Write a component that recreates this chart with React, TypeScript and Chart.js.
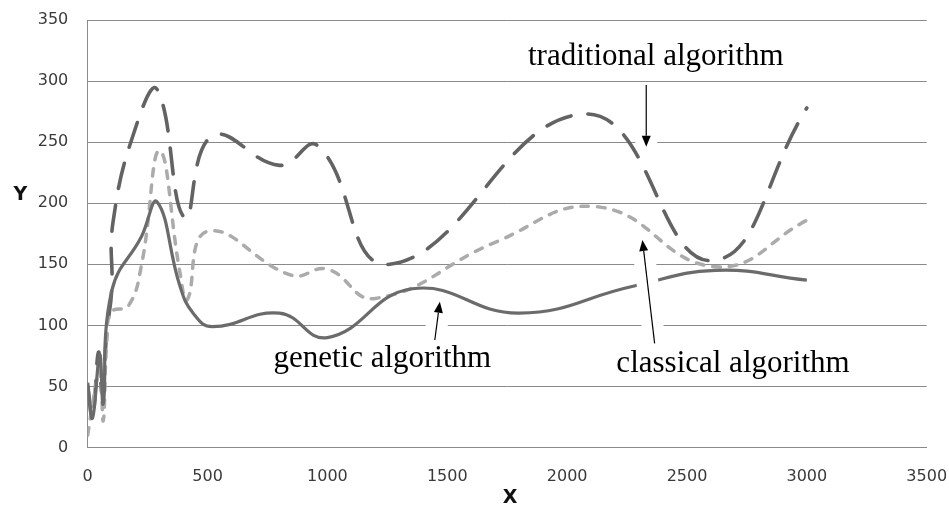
import React, { useEffect, useRef } from "react";
import { Chart, registerables } from "chart.js";

Chart.register(...registerables);

// ---- Data ----
const geneticX = [0, 20, 50, 65, 100, 225, 290, 385, 440, 520, 800, 1000, 1355, 1800, 2275, 2620, 3000];
const geneticY = [53, 24, 76, 36, 128, 173, 201, 132, 110, 99, 110, 90, 130, 110, 132, 145, 137];

const classicalX = [0, 30, 50, 65, 80, 100, 170, 225, 300, 385, 415, 500, 850, 1000, 1200, 1700, 2130, 2620, 3000];
const classicalY = [10, 47, 63, 22, 88, 111, 116, 150, 243, 143, 121, 177, 141, 146, 122, 168, 197, 148, 186];

const traditionalX = [0, 20, 45, 60, 80, 100, 106, 200, 290, 405, 520, 800, 960, 1260, 2080, 2600, 3000];
const traditionalY = [50, 25, 78, 45, 95, 128, 185, 262, 293, 188, 255, 231, 247, 150, 273, 153, 278];

const xTickValues = [0, 500, 1000, 1500, 2000, 2500, 3000, 3500];
const yTickValues = [0, 50, 100, 150, 200, 250, 300, 350];

// annotation labels: text anchor + arrow tail/tip in data units
const labelTexts = ["traditional algorithm", "genetic algorithm", "classical algorithm"];
const labelX = [2370, 1229, 2692];
const labelY = [313, 66.2, 62];
const arrowTailX = [2330, 1448, 2365];
const arrowTailY = [296.8, 88, 85.3];
const arrowTipX = [2330, 1469, 2314];
const arrowTipY = [246.3, 119.4, 169.9];

const toPoints = (xs: number[], ys: number[]) => xs.map((x, i) => ({ x, y: ys[i] }));

const annotationPlugin = {
  id: "annotations",
  afterDatasetsDraw(chart: any) {
    const { ctx, scales } = chart;
    const xs = scales.x;
    const ys = scales.y;
    ctx.save();
    for (let i = 0; i < labelTexts.length; i++) {
      const x0 = xs.getPixelForValue(arrowTailX[i]);
      const y0 = ys.getPixelForValue(arrowTailY[i]);
      const x1 = xs.getPixelForValue(arrowTipX[i]);
      const y1 = ys.getPixelForValue(arrowTipY[i]);
      // white band behind the arrow (like the original's boxes)
      ctx.strokeStyle = "#ffffff";
      ctx.lineWidth = 22;
      ctx.lineCap = "butt";
      ctx.beginPath();
      ctx.moveTo(x0, y0);
      ctx.lineTo(x1, y1);
      ctx.stroke();
      // arrow line
      const ang = Math.atan2(y1 - y0, x1 - x0);
      const headLen = 11;
      const headHalf = 4.5;
      const bx = x1 - headLen * Math.cos(ang);
      const by = y1 - headLen * Math.sin(ang);
      ctx.strokeStyle = "#000000";
      ctx.lineWidth = 1.2;
      ctx.beginPath();
      ctx.moveTo(x0, y0);
      ctx.lineTo(bx, by);
      ctx.stroke();
      ctx.fillStyle = "#000000";
      ctx.beginPath();
      ctx.moveTo(x1, y1);
      ctx.lineTo(bx + headHalf * Math.sin(ang), by - headHalf * Math.cos(ang));
      ctx.lineTo(bx - headHalf * Math.sin(ang), by + headHalf * Math.cos(ang));
      ctx.closePath();
      ctx.fill();
      // label text
      ctx.font = "31px 'Liberation Serif', 'Times New Roman', serif";
      ctx.textAlign = "center";
      ctx.textBaseline = "alphabetic";
      ctx.fillStyle = "#000000";
      ctx.fillText(labelTexts[i], xs.getPixelForValue(labelX[i]), ys.getPixelForValue(labelY[i]));
    }
    // axis titles
    ctx.font = "bold 19px 'DejaVu Sans', sans-serif";
    ctx.fillStyle = "#111111";
    ctx.textAlign = "center";
    ctx.textBaseline = "middle";
    ctx.fillText("Y", 20.5, 195.5);
    ctx.fillText("X", 510, 498);
    ctx.restore();
  },
};

export default function App() {
  const canvasRef = useRef<HTMLCanvasElement | null>(null);

  useEffect(() => {
    document.body.style.margin = "0";
    const canvas = canvasRef.current;
    if (!canvas) return;
    const chart = new Chart(canvas, {
      type: "scatter",
      data: {
        datasets: [
          {
            label: "genetic algorithm",
            data: toPoints(geneticX, geneticY),
            showLine: true,
            borderColor: "#6b6b6b",
            borderWidth: 3.2,
            pointRadius: 0,
            tension: 0.45,
            fill: false,
          },
          {
            label: "classical algorithm",
            data: toPoints(classicalX, classicalY),
            showLine: true,
            borderColor: "#ababab",
            borderWidth: 3.5,
            borderDash: [7.5, 9],
            borderCapStyle: "round",
            pointRadius: 0,
            tension: 0.45,
            fill: false,
          },
          {
            label: "traditional algorithm",
            data: toPoints(traditionalX, traditionalY),
            showLine: true,
            borderColor: "#636363",
            borderWidth: 3.6,
            borderDash: [26, 17],
            borderCapStyle: "round",
            pointRadius: 0,
            tension: 0.45,
            fill: false,
          },
        ],
      },
      options: {
        animation: false,
        responsive: true,
        maintainAspectRatio: false,
        layout: { padding: { top: 20, right: 22.3, left: 0, bottom: 0 } },
        plugins: {
          legend: { display: false },
          tooltip: { enabled: false },
        },
        scales: {
          x: {
            type: "linear",
            min: 0,
            max: 3500,
            afterBuildTicks: (scale: any) => {
              scale.ticks = xTickValues.map((v) => ({ value: v }));
            },
            afterFit: (scale: any) => {
              scale.height = 60.5;
              scale.paddingLeft = 0;
              scale.paddingRight = 0;
              scale.paddingTop = 0;
              scale.paddingBottom = 0;
            },
            grid: { display: false, drawTicks: false },
            border: { display: true, color: "#8a8a8a", width: 1 },
            ticks: {
              padding: 20,
              color: "#3a3a3a",
              font: { family: "'DejaVu Sans', sans-serif", size: 16 },
              callback: (v: any) => String(v),
              maxRotation: 0,
            },
          },
          y: {
            type: "linear",
            min: 0,
            max: 350,
            afterBuildTicks: (scale: any) => {
              scale.ticks = yTickValues.map((v) => ({ value: v }));
            },
            afterFit: (scale: any) => {
              scale.width = 87.7;
              scale.paddingLeft = 0;
              scale.paddingRight = 0;
              scale.paddingTop = 0;
              scale.paddingBottom = 0;
            },
            grid: { display: true, color: "#8a8a8a", lineWidth: 1, drawTicks: false },
            border: { display: true, color: "#8a8a8a", width: 1 },
            ticks: {
              padding: 19.4,
              color: "#3a3a3a",
              font: { family: "'DejaVu Sans', sans-serif", size: 16 },
              callback: (v: any) => String(v),
            },
          },
        },
      },
      plugins: [annotationPlugin],
    } as any);
    return () => chart.destroy();
  }, []);

  return (
    <div style={{ width: 949, height: 508, position: "relative", background: "#ffffff" }}>
      <canvas ref={canvasRef} />
    </div>
  );
}
